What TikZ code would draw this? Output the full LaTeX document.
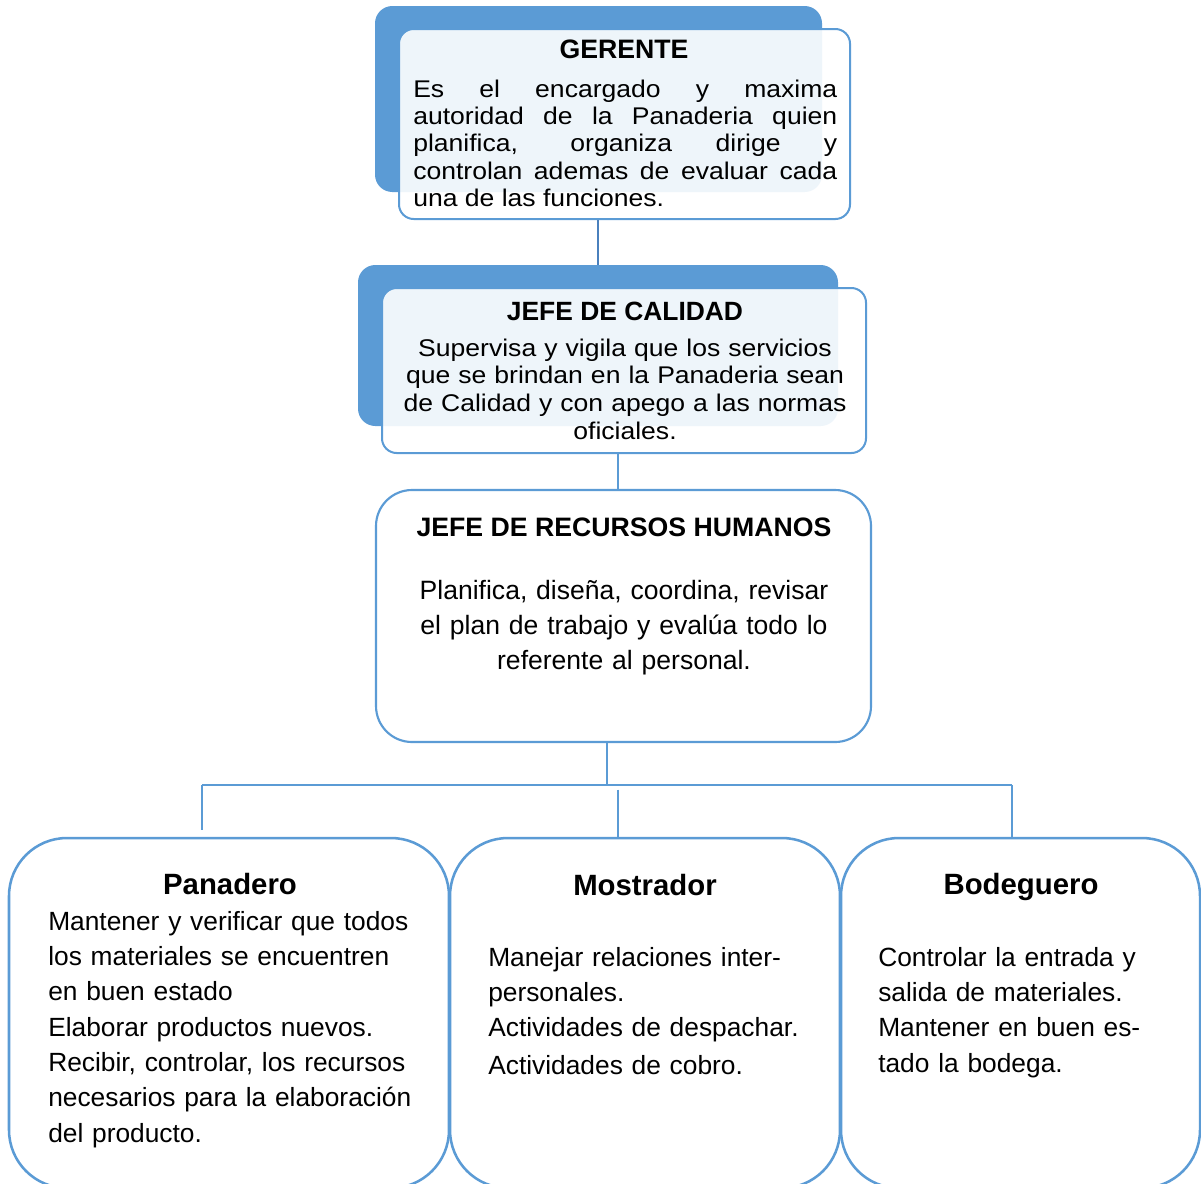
\documentclass[tikz,border=0pt]{standalone}
\usepackage{fontspec}
\setmainfont{Liberation Sans}
\newfontfamily\tightfont[FakeStretch=1.1]{Liberation Sans}
\usetikzlibrary{calc}
\definecolor{boxblue}{HTML}{5B9BD5}
\definecolor{linkblue}{HTML}{4A80BD}
\begin{document}
\begin{tikzpicture}[x=0.75pt,y=-0.75pt,
  shadowbox/.style={rectangle, rounded corners=13pt, fill=boxblue, draw=none, inner sep=0pt},
  cardbox/.style={rectangle, rounded corners=11pt, draw=boxblue, line width=1.5pt,
    fill=white, fill opacity=0.9, inner sep=0pt},
  rhbox/.style={rectangle, rounded corners=27pt, draw=boxblue, line width=1.6pt,
    fill=white, inner sep=0pt},
  staffbox/.style={rectangle, rounded corners=43.5pt, draw=boxblue, line width=1.9pt,
    fill=white, inner sep=0pt, minimum height=262.5pt},
  toptitle/.style={anchor=base, inner sep=0pt, font=\bfseries\fontsize{20pt}{22pt}\selectfont},
  midtitle/.style={anchor=base, inner sep=0pt, font=\bfseries\fontsize{19.8pt}{22pt}\selectfont},
  tighttext/.style={inner sep=0pt, font=\tightfont\fontsize{18.1pt}{20.6pt}\selectfont},
  bodytext/.style={inner sep=0pt, font=\fontsize{19.75pt}{26.5pt}\selectfont},
  stafftitle/.style={anchor=base, inner sep=0pt, font=\bfseries\fontsize{22pt}{24pt}\selectfont},
  link/.style={draw=linkblue, line width=1.5pt},
  thinlink/.style={draw=boxblue, line width=1pt}
]
\useasboundingbox (0,0) rectangle (1201,1183);
\clip (0,0) rectangle (1201,1183);

% Gerente
\node[shadowbox, minimum width=335.25pt, minimum height=139.5pt] (gsh) at (598.5,99) {};
\node[cardbox, minimum width=338.25pt, minimum height=142.5pt] (g) at (624.5,124) {};
\node[toptitle] (gt) at (624,58) {GERENTE};
\node[tighttext, anchor=base west, text width=318pt, align=justify] (gd) at (413,97)
  {Es el encargado y maxima\linebreak autoridad de la Panaderia quien\linebreak
   planifica, organiza dirige y\linebreak controlan ademas de evaluar cada\linebreak
   una de las funciones.};

% Jefe de calidad
\node[shadowbox, minimum width=360pt, minimum height=120.75pt] (jsh) at (598,345.5) {};
\node[cardbox, minimum width=363pt, minimum height=123.75pt] (j) at (624,370.5) {};
\node[midtitle] (jt) at (625,320) {JEFE DE CALIDAD};
\node[tighttext, anchor=base, text width=350pt, align=center,
  font=\tightfont\fontsize{18.1pt}{20.8pt}\selectfont] (jd) at (625,356)
  {Supervisa y vigila que los servicios\\ que se brindan en la Panaderia sean\\
   de Calidad y con apego a las normas\\ oficiales.};

% Jefe de recursos humanos
\node[rhbox, minimum width=371.25pt, minimum height=189pt] (rh) at (623.5,616) {};
\node[toptitle] (rht) at (624,536) {JEFE DE RECURSOS HUMANOS};
\node[bodytext, anchor=base, text width=340pt, align=center,
  font=\fontsize{19.9pt}{26.6pt}\selectfont] (rhd) at (624,599)
  {Planifica, diseña, coordina, revisar\\ el plan de trabajo y evalúa todo lo\\ referente al personal.};

% Staff
\node[staffbox, minimum width=330pt] (p) at (229,1013) {};
\node[staffbox, minimum width=292.5pt] (m) at (645,1013) {};
\node[staffbox, minimum width=269.25pt] (b) at (1020.5,1013) {};

\node[stafftitle] (pt) at (230,894) {Panadero};
\node[bodytext, anchor=base west, text width=300pt, align=left] (pd) at (48,930)
  {Mantener y verificar que todos\\ los materiales se encuentren\\ en buen estado\\
   Elaborar productos nuevos.\\ Recibir, controlar, los recursos\\
   necesarios para la elaboración\\ del producto.};

\node[stafftitle] (mt) at (645,895) {Mostrador};
\node[bodytext, anchor=base west, text width=260pt, align=left] (md) at (488,966)
  {Manejar relaciones inter-\\ personales.\\ Actividades de despachar.\\[1.5pt] Actividades de cobro.};

\node[stafftitle] (bt) at (1021,894) {Bodeguero};
\node[bodytext, anchor=base west, text width=240pt, align=left] (bd) at (878,966)
  {Controlar la entrada y\\ salida de materiales.\\ Mantener en buen es-\\ tado la bodega.};

% Connectors
\draw[link] (g.south -| jsh.north) -- (jsh.north);
\draw[thinlink] ([xshift=-4.5pt]j.south) -- ([xshift=-4.5pt]j.south |- rh.north);

\coordinate (busL) at (202,785);
\coordinate (busR) at (1012,785);
\draw[thinlink] ([xshift=-12.4pt]rh.south) -- ([xshift=-12.4pt]rh.south |- busL);
\draw[thinlink] (busL) -- (busR);
\draw[thinlink, shorten >=5pt] (busL) -- (busL |- p.north);
\draw[thinlink, shorten <=3.5pt] ([xshift=-20.25pt]m.north |- busL) -- ([xshift=-20.25pt]m.north);
\draw[thinlink] (busR) -- (busR |- b.north);
\end{tikzpicture}
\end{document}
